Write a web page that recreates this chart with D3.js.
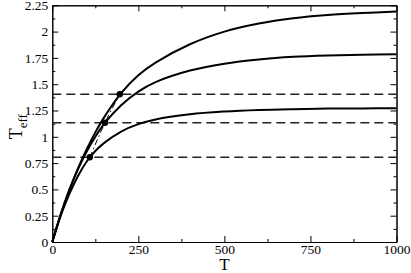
<!DOCTYPE html>
<html>
<head>
<meta charset="utf-8">
<script src="https://cdn.jsdelivr.net/npm/d3@7"></script>
<style>
  body { margin: 0; background: #fff; }
  svg { display: block; font-family: 'Liberation Serif', 'DejaVu Serif', serif; }
  .axis text { font-size: 13.5px; fill: #000; font-family: 'Liberation Serif', serif; }
  .curve { fill: none; stroke: #000; stroke-width: 2; }
  .level { fill: none; stroke: #222; stroke-width: 1.6; stroke-dasharray: 9,5; }
  .locus { fill: none; stroke: #000; stroke-width: 1; stroke-dasharray: 6,3,1.5,3; }
</style>
</head>
<body>
<div id="chart"></div>
<script>
// T values sampled along the curves
const tVals = [0, 25, 50, 75, 100, 125, 150, 200, 250, 300, 400, 500, 600, 700, 800, 900, 1000]
// Teff, one list per curve
const curveTop = [0, 0.265, 0.498, 0.703, 0.883, 1.042, 1.182, 1.415, 1.585, 1.705, 1.88, 2.0, 2.077, 2.127, 2.158, 2.177, 2.19]
const curveMid = [0, 0.27, 0.5, 0.695, 0.86, 1.0, 1.12, 1.30, 1.43, 1.52, 1.63, 1.695, 1.735, 1.76, 1.773, 1.78, 1.784]
const curveLow = [0, 0.255, 0.46, 0.63, 0.765, 0.865, 0.94, 1.05, 1.12, 1.165, 1.214, 1.24, 1.255, 1.263, 1.268, 1.27, 1.271]
// marked points (T, Teff) and the dashed levels through them
const dotT = [109, 153, 196]
const dotTeff = [0.805, 1.134, 1.404]
const xTicks = [0, 250, 500, 750, 1000]
const yTicks = [0, 0.25, 0.5, 0.75, 1, 1.25, 1.5, 1.75, 2, 2.25]

const W = 411, H = 273
const margin = {top: 5.3, right: 14.5, bottom: 31, left: 52.3}
const width = W - margin.left - margin.right
const height = H - margin.top - margin.bottom

const svg = d3.select('#chart').append('svg')
    .attr('width', W)
    .attr('height', H)
  .append('g')
    .attr('transform', `translate(${margin.left},${margin.top})`)

const x = d3.scaleLinear().domain([0, 1000]).range([0, width])
const y = d3.scaleLinear().domain([0, 2.25]).range([height, 0])

const fmt = d => String(d)
const xMinor = d3.range(0, 1001, 125).filter(d => d % 250 !== 0)
const yMinor = d3.range(0, 2.26, 0.125).filter((d, i) => i % 2 === 1)

// major ticks point inward, minor ticks shorter
svg.append('g').attr('class', 'axis')
    .attr('transform', `translate(0,${height})`)
    .call(d3.axisBottom(x).tickValues(xTicks).tickFormat(fmt).tickSize(-6).tickPadding(2.5).tickSizeOuter(0))
svg.append('g').attr('class', 'axis')
    .attr('transform', `translate(0,${height})`)
    .call(d3.axisBottom(x).tickValues(xMinor).tickFormat('').tickSize(-3).tickSizeOuter(0))
svg.append('g').attr('class', 'axis')
    .call(d3.axisTop(x).tickValues(xTicks).tickFormat('').tickSize(-6).tickSizeOuter(0))
svg.append('g').attr('class', 'axis')
    .call(d3.axisTop(x).tickValues(xMinor).tickFormat('').tickSize(-3).tickSizeOuter(0))

svg.append('g').attr('class', 'axis')
    .call(d3.axisLeft(y).tickValues(yTicks).tickFormat(fmt).tickSize(-6).tickPadding(4).tickSizeOuter(0))
svg.append('g').attr('class', 'axis')
    .call(d3.axisLeft(y).tickValues(yMinor).tickFormat('').tickSize(-3).tickSizeOuter(0))
svg.append('g').attr('class', 'axis')
    .attr('transform', `translate(${width},0)`)
    .call(d3.axisRight(y).tickValues(yTicks).tickFormat('').tickSize(-6).tickSizeOuter(0))
svg.append('g').attr('class', 'axis')
    .attr('transform', `translate(${width},0)`)
    .call(d3.axisRight(y).tickValues(yMinor).tickFormat('').tickSize(-3).tickSizeOuter(0))

svg.selectAll('.axis path, .axis line').attr('stroke', '#000')

// dashed levels
svg.selectAll('.level')
  .data(dotTeff)
  .join('line')
    .attr('class', 'level')
    .attr('x1', 0)
    .attr('x2', width)
    .attr('y1', d => y(d))
    .attr('y2', d => y(d))

// curves
const line = d3.line()
    .curve(d3.curveCatmullRom.alpha(0.5))
    .x((d, i) => x(tVals[i]))
    .y(d => y(d))

svg.selectAll('.curve')
  .data([curveTop, curveMid, curveLow])
  .join('path')
    .attr('class', 'curve')
    .attr('d', line)

// dash-dot locus through the marked points
const locus = d3.line()
    .curve(d3.curveCatmullRom)
    .x((d, i) => x(dotT[i]))
    .y(d => y(d))

svg.append('path')
    .datum(dotTeff)
    .attr('class', 'locus')
    .attr('d', locus)

svg.selectAll('.dot')
  .data(dotTeff)
  .join('circle')
    .attr('class', 'dot')
    .attr('cx', (d, i) => x(dotT[i]))
    .attr('cy', d => y(d))
    .attr('r', 3.2)
    .attr('fill', '#000')

// axis titles
svg.append('text')
    .attr('x', width / 2)
    .attr('y', height + 28)
    .attr('text-anchor', 'middle')
    .style('font-size', '17px')
    .text('T')

const yl = svg.append('text')
    .attr('transform', `translate(${-30},${height / 2 + 3}) rotate(-90)`)
    .attr('text-anchor', 'middle')
    .style('font-size', '18px')
yl.append('tspan').text('T')
yl.append('tspan').attr('dy', 5).style('font-size', '13px').text('eff')
</script>
</body>
</html>
